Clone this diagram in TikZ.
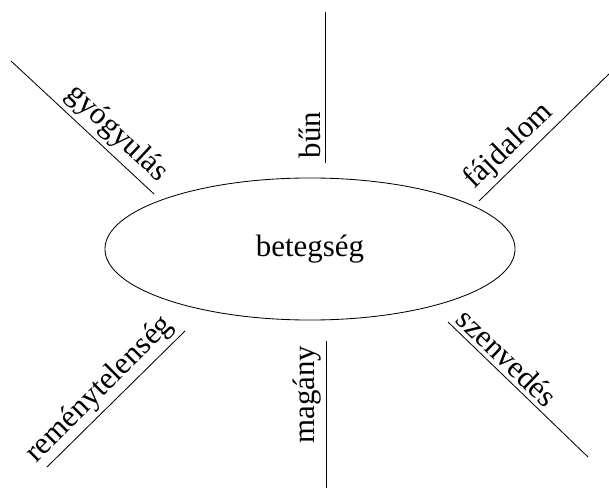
\documentclass[tikz,border=0pt]{standalone}
\usepackage{fontspec}
\setmainfont{Liberation Serif}
\usetikzlibrary{shapes.geometric}

\begin{document}
\begin{tikzpicture}[x=0.025cm,y=0.025cm,
 topic/.style={ellipse,draw,line width=0.6pt,minimum width=10.25cm,minimum height=3.55cm,inner sep=0pt,font=\rmfamily\fontsize{22}{26}\selectfont},
 spoke/.style={line width=0.6pt},
 lab/.style={font=\rmfamily\fontsize{22}{26}\selectfont,inner sep=0.3em}
]
\useasboundingbox (0,0) rectangle (609,487);
\node[topic] (beteg) at (310,238) {betegség};

\coordinate (gy1) at (154,293); \coordinate (gy2) at (11,426);
\coordinate (bu1) at (325,324); \coordinate (bu2) at (325,475);
\coordinate (fa1) at (479,286); \coordinate (fa2) at (612,416);
\coordinate (sz1) at (448,165); \coordinate (sz2) at (588,30);
\coordinate (ma1) at (326,146); \coordinate (ma2) at (326,-2);
\coordinate (re1) at (185,156); \coordinate (re2) at (47,20);

\draw[spoke] (gy1) -- (gy2) node[lab,pos=0,anchor=south east,rotate=-43] (gy) {gyógyulás};
\draw[spoke] (bu1) -- (bu2) node[lab,pos=0,anchor=south west,rotate=90] (bu) {bűn};
\draw[spoke] (fa1) -- (fa2) node[lab,pos=0,anchor=south west,rotate=44] (fa) {fájdalom};
\draw[spoke] (sz1) -- (sz2) node[lab,pos=0,anchor=south west,rotate=-44] (sz) {szenvedés};
\draw[spoke] (ma1) -- (ma2) node[lab,pos=0,anchor=south east,rotate=90] (ma) {magány};
\draw[spoke] (re1) -- (re2) node[lab,pos=0,anchor=south east,rotate=45] (re) {reménytelenség};
\end{tikzpicture}
\end{document}
